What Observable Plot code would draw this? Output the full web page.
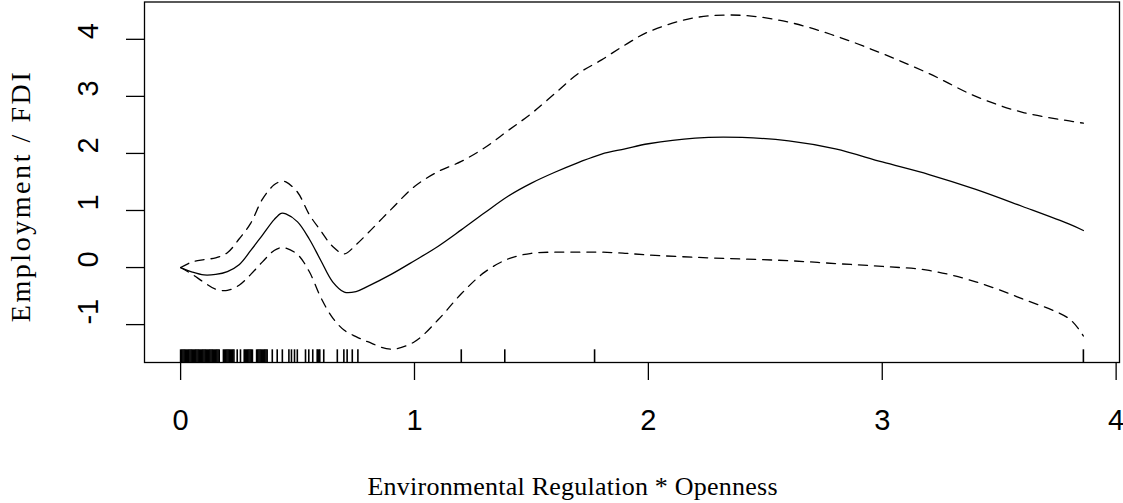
<!DOCTYPE html>
<html>
<head>
<meta charset="utf-8">
<script src="https://cdn.jsdelivr.net/npm/d3@7"></script>
<script src="https://cdn.jsdelivr.net/npm/@observablehq/plot@0.6"></script>
<style>
  html, body { margin: 0; padding: 0; background: #fff; }
  #chart svg { display: block; overflow: visible; }
</style>
</head>
<body>
<div id="chart"></div>
<script>
// ---- data ----
const xs = [0, 0.05, 0.1, 0.15, 0.2, 0.25, 0.3, 0.35, 0.4, 0.43, 0.45, 0.5, 0.55, 0.6, 0.65, 0.7, 0.75, 0.8, 0.9, 1.0,
            1.1, 1.2, 1.3, 1.4, 1.5, 1.6, 1.7, 1.8, 1.9, 2.0, 2.2, 2.4, 2.6, 2.8, 3.0, 3.2, 3.4, 3.6, 3.8, 3.86];
const fit = [0, -0.08, -0.13, -0.12, -0.07, 0.05, 0.3, 0.57, 0.84, 0.95, 0.94, 0.8, 0.5, 0.12, -0.25, -0.43, -0.42, -0.33, -0.12, 0.12,
             0.37, 0.66, 0.96, 1.25, 1.48, 1.67, 1.84, 1.99, 2.08, 2.17, 2.27, 2.28, 2.22, 2.08, 1.85, 1.63, 1.37, 1.07, 0.76, 0.65];
const upper = [0, 0.1, 0.14, 0.17, 0.26, 0.5, 0.78, 1.2, 1.45, 1.51, 1.5, 1.32, 0.93, 0.64, 0.37, 0.24, 0.4, 0.6, 1.02, 1.42,
               1.68, 1.86, 2.1, 2.4, 2.7, 3.05, 3.4, 3.64, 3.9, 4.13, 4.38, 4.42, 4.3, 4.06, 3.75, 3.4, 3.0, 2.72, 2.57, 2.53];
const lower = [0, -0.12, -0.26, -0.38, -0.4, -0.31, -0.12, 0.1, 0.3, 0.35, 0.34, 0.23, -0.07, -0.53, -0.88, -1.1, -1.21, -1.3, -1.43, -1.3,
               -0.92, -0.46, -0.08, 0.15, 0.25, 0.27, 0.27, 0.27, 0.25, 0.22, 0.18, 0.15, 0.12, 0.07, 0.02, -0.05, -0.25, -0.55, -0.9, -1.2];
const rug = [0, 0.005, 0.01, 0.015, 0.02, 0.025, 0.03, 0.035, 0.04, 0.045, 0.05, 0.055, 0.06, 0.065, 0.07, 0.075, 0.08, 0.085,
             0.09, 0.095, 0.1, 0.105, 0.11, 0.115, 0.12, 0.125, 0.13, 0.135, 0.14, 0.145, 0.15, 0.155, 0.16, 0.165,
             0.183, 0.188, 0.193, 0.198, 0.203, 0.208, 0.213, 0.218, 0.223, 0.228,
             0.242, 0.256,
             0.272, 0.277, 0.282, 0.287, 0.292, 0.297, 0.302, 0.307,
             0.325, 0.33, 0.335, 0.34, 0.345, 0.35, 0.355, 0.36, 0.365, 0.37,
             0.392, 0.413, 0.435, 0.463, 0.474, 0.487, 0.499, 0.534, 0.548, 0.565, 0.584, 0.59, 0.595, 0.612,
             0.67, 0.698, 0.712, 0.734, 0.758, 1.2, 1.386, 1.77, 3.86];
const xTicks = [0, 1, 2, 3, 4];
const yTicks = [-1, 0, 1, 2, 3, 4];
const xTitle = "Environmental Regulation * Openness";
const yTitle = "Employment / FDI";

// ---- build table ----
const table = xs.map((x, i) => ({x, fit: fit[i], upper: upper[i], lower: lower[i]}));

// R-style 4% domain expansion
function expand([a, b]) { const p = (b - a) * 0.04; return [a - p, b + p]; }
const xDomain = expand(d3.extent(xs));
const yDomain = expand(d3.extent([...fit, ...upper, ...lower]));

const W = 1123, H = 503;
const mTop = 1.5, mLeft = 144, mRight = 4, mBottom = 141;
const frameH = H - mTop - mBottom;

const sans = "Liberation Sans, Arial, sans-serif";
const serif = "Liberation Serif, Times New Roman, serif";

const plot = Plot.plot({
  width: W,
  height: H,
  marginTop: mTop, marginLeft: mLeft, marginRight: mRight, marginBottom: mBottom,
  x: {domain: xDomain, label: null},
  y: {domain: yDomain, label: null},
  style: {background: "#fff", color: "#000"},
  marks: [
    Plot.frame({stroke: "#000", strokeWidth: 1.3}),
    Plot.axisX({ticks: xTicks, tickSize: 18, tickFormat: () => "", label: null, stroke: "#000", strokeWidth: 1.3}),
    Plot.axisY({ticks: yTicks, tickSize: 18, tickFormat: () => "", label: null, stroke: "#000", strokeWidth: 1.3}),
    Plot.text(xTicks, {x: d => d, frameAnchor: "bottom", dy: 58, lineAnchor: "middle", text: d => String(d),
      fontFamily: sans, fontSize: 29, fill: "#000"}),
    Plot.text(yTicks, {y: d => d, frameAnchor: "left", dx: -56, rotate: -90, lineAnchor: "middle", text: d => String(d),
      fontFamily: sans, fontSize: 29, fill: "#000"}),
    Plot.text([xTitle], {frameAnchor: "bottom-left", textAnchor: "start", dx: 367 - mLeft, dy: 124, lineAnchor: "middle",
      text: d => d, fontFamily: serif, fontSize: 26, fill: "#000", className: "xtitle"}),
    Plot.text([yTitle], {frameAnchor: "left", textAnchor: "middle", dx: -123, dy: 15, rotate: -90, lineAnchor: "middle",
      text: d => d, fontFamily: serif, fontSize: 28, fill: "#000", className: "ytitle"}),
    Plot.ruleX(rug, {x: d => d, insetTop: frameH - 12.7, stroke: "#000", strokeWidth: 1.6}),
    Plot.line(table, {x: "x", y: "upper", stroke: "#000", strokeWidth: 1.3, strokeDasharray: "9,7", curve: "catmull-rom"}),
    Plot.line(table, {x: "x", y: "lower", stroke: "#000", strokeWidth: 1.3, strokeDasharray: "9,7", curve: "catmull-rom"}),
    Plot.line(table, {x: "x", y: "fit", stroke: "#000", strokeWidth: 1.3, curve: "catmull-rom"})
  ]
});

d3.select(plot).selectAll(".xtitle text").attr("textLength", 410).attr("lengthAdjust", "spacing");
d3.select(plot).selectAll(".ytitle text").attr("textLength", 250).attr("lengthAdjust", "spacing");

document.getElementById("chart").appendChild(plot);
</script>
</body>
</html>
